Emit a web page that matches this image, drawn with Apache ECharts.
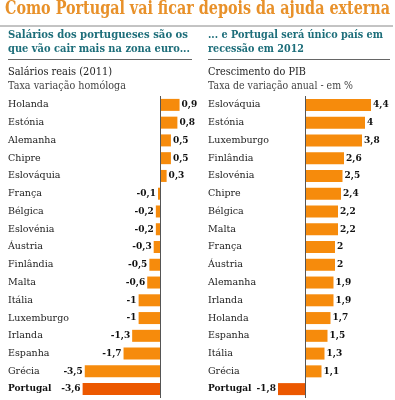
<!DOCTYPE html>
<html><head><meta charset="utf-8">
<script src="https://cdn.jsdelivr.net/npm/echarts@6/dist/echarts.min.js"></script>
<style>html,body{margin:0;padding:0;background:#fff}#c{width:395px;height:400px}</style>
</head><body><div id="c"></div>
<script>
const leftCategories = ['Holanda','Estónia','Alemanha','Chipre','Eslováquia','França','Bélgica','Eslovénia','Áustria','Finlândia','Malta','Itália','Luxemburgo','Irlanda','Espanha','Grécia','Portugal'];
const leftValues = [0.9,0.8,0.5,0.5,0.3,-0.1,-0.2,-0.2,-0.3,-0.5,-0.6,-1,-1,-1.3,-1.7,-3.5,-3.6];
const rightCategories = ['Eslováquia','Estónia','Luxemburgo','Finlândia','Eslovénia','Chipre','Bélgica','Malta','França','Áustria','Alemanha','Irlanda','Holanda','Espanha','Itália','Grécia','Portugal'];
const rightValues = [4.4,4,3.8,2.6,2.5,2.4,2.2,2.2,2,2,1.9,1.9,1.7,1.5,1.3,1.1,-1.8];
const title = 'Como Portugal vai ficar depois da ajuda externa';
const leftHeadline = ['Salários dos portugueses são os','que vão cair mais na zona euro...'];
const rightHeadline = ['... e Portugal será único país em','recessão em 2012'];
const leftSub = ['Salários reais (2011)','Taxa variação homóloga'];
const rightSub = ['Crescimento do PIB','Taxa de variação anual - em %'];

const SERIF = 'DejaVu Serif';
const ORANGE = '#F68B0C', PT = '#EC5800';
const fmt = v => String(v).replace('.', ',');

const cv = document.createElement('canvas').getContext('2d');
function textEl(text, weight, size, fill, x, y, width){
  cv.font = weight + ' ' + size + 'px "' + SERIF + '"';
  const s = Math.min(1, width / cv.measureText(text).width);
  return {type:'text', x:x, y:y, scaleX:s, silent:true,
    style:{text:text, fontFamily:SERIF, fontWeight:weight, fontSize:size, fill:fill, x:0, y:0, verticalAlign:'top', align:'left'}};
}

function mkData(cats, vals){
  return vals.map((v,i)=>({
    value: v,
    itemStyle: {color: cats[i]==='Portugal' ? PT : ORANGE},
    label: {position: v>=0 ? 'right' : 'left'}
  }));
}
function yAx(gi, cats, margin){
  return {type:'category', gridIndex:gi, data:cats, inverse:true,
    axisLine:{show:false}, axisTick:{show:false},
    axisLabel:{align:'left', margin:margin, fontFamily:SERIF, fontSize:9.5, color:'#222',
      formatter: v => v==='Portugal' ? '{b|'+v+'}' : v,
      rich:{b:{fontWeight:'bold', fontFamily:SERIF, fontSize:9, color:'#111'}}}};
}
function xAx(gi, min, max){
  return {type:'value', gridIndex:gi, min:min, max:max, show:false, splitLine:{show:false}};
}
function ser(i, cats, vals){
  return {type:'bar', xAxisIndex:i, yAxisIndex:i, barWidth:12, data:mkData(cats,vals),
    label:{show:true, formatter:p=>fmt(p.value), fontFamily:SERIF, fontWeight:'bold', fontSize:9, color:'#111', distance:2},
    markLine:{silent:true, symbol:'none', label:{show:false}, lineStyle:{color:'#555', width:1, type:'solid'},
      data:[{xAxis:0}]}, animation:false};
}

const gridTop = 96, gridBottom = 2;
const chart = echarts.init(document.getElementById('c'));
chart.setOption({
  animation:false,
  grid:[
    {left:74, right:395-186, top:gridTop, bottom:gridBottom},
    {left:267.5, right:395-380, top:gridTop, bottom:gridBottom}
  ],
  xAxis:[xAx(0,-4,1.2), xAx(1,-2.5,5)],
  yAxis:[yAx(0,leftCategories,66), yAx(1,rightCategories,59.5)],
  series:[ser(0,leftCategories,leftValues), ser(1,rightCategories,rightValues)],
  graphic:[
    textEl(title, 'bold', 18, '#E8912A', 5, 0, 385),
    {type:'line', shape:{x1:0,y1:26,x2:393,y2:26}, style:{stroke:'#888', lineWidth:1}},
    textEl(leftHeadline[0], 'bold', 11, '#1D6E7A', 8, 30, 180),
    textEl(leftHeadline[1], 'bold', 11, '#1D6E7A', 8, 44, 182),
    textEl(rightHeadline[0], 'bold', 11, '#1D6E7A', 208, 30, 175),
    textEl(rightHeadline[1], 'bold', 11, '#1D6E7A', 208, 44, 96),
    {type:'line', shape:{x1:8,y1:59.5,x2:192,y2:59.5}, style:{stroke:'#666', lineWidth:1}},
    {type:'line', shape:{x1:208,y1:59.5,x2:390,y2:59.5}, style:{stroke:'#666', lineWidth:1}},
    textEl(leftSub[0], 'normal', 10.5, '#222', 8, 67, 104),
    textEl(leftSub[1], 'normal', 10.5, '#444', 8, 81, 118),
    textEl(rightSub[0], 'normal', 10.5, '#222', 208, 67, 98),
    textEl(rightSub[1], 'normal', 10.5, '#444', 208, 81, 145)
  ]
});
</script></body></html>
